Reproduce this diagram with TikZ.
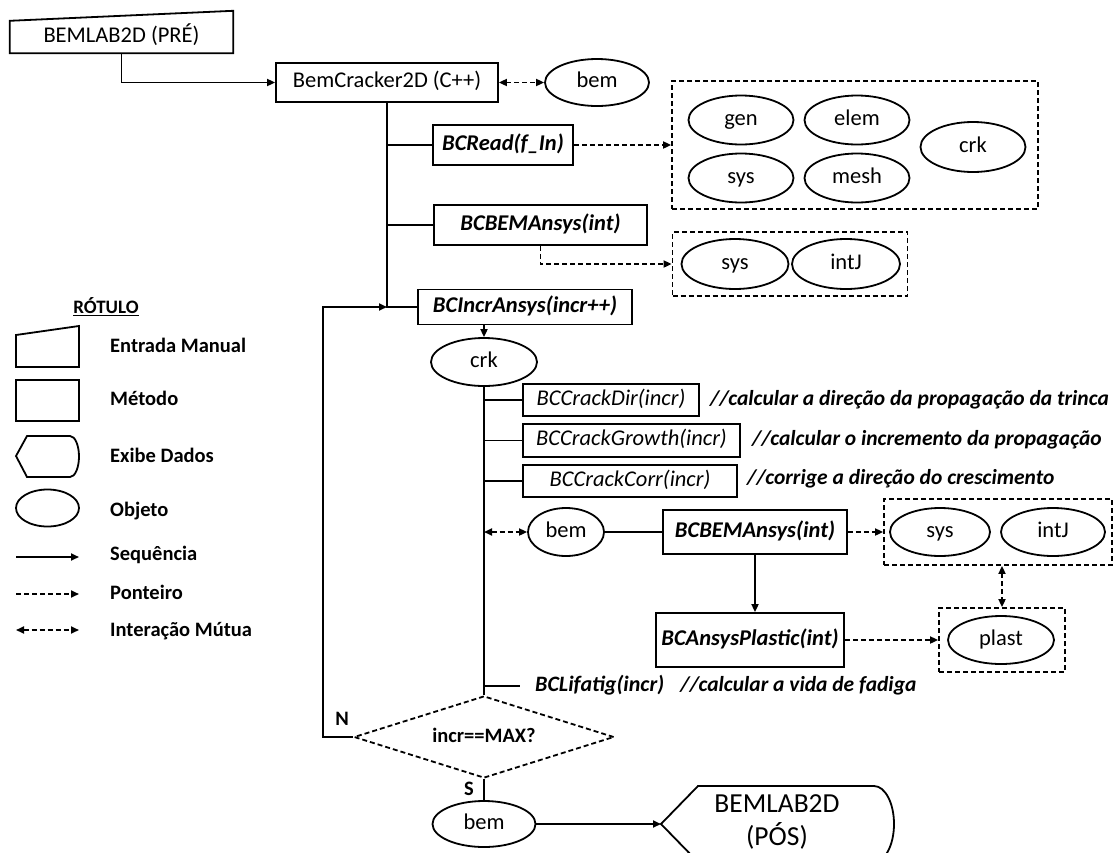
\documentclass[tikz,border=0pt]{standalone}
\usepackage{fontspec}
\setmainfont{Carlito}
\usetikzlibrary{shapes.geometric,arrows.meta,calc}
\begin{document}
\begin{tikzpicture}[x=1pt,y=-1pt,
  every node/.style={font=\fontsize{22.5}{26}\selectfont},
  line/.style={line width=1.8pt},
  seq/.style={line width=1.8pt,-{Triangle[length=8pt,width=7pt]}},
  ptr/.style={line width=1.8pt,dash pattern=on 5pt off 3pt,-{Triangle[length=8pt,width=7pt]}},
  mut/.style={line width=1.8pt,dash pattern=on 5pt off 3pt,{Triangle[length=8pt,width=7pt]}-{Triangle[length=8pt,width=7pt]}},
  ctr/.style={text height=14.5pt,text depth=4pt},
  obj/.style={ellipse,draw,line width=1.8pt,inner sep=0pt,ctr},
  box/.style={rectangle,draw,line width=1.8pt,inner sep=0pt,ctr},
  meth/.style={box,font=\fontsize{22.5}{26}\selectfont\bfseries\itshape},
  cbox/.style={box,font=\fontsize{22.5}{26}\selectfont\itshape},
  cmt/.style={anchor=west,inner sep=0pt,text height=14pt,text depth=4pt,font=\fontsize{21.5}{24}\selectfont\bfseries\itshape},
  grp/.style={rectangle,draw,line width=1.8pt,dash pattern=on 5pt off 3pt,inner sep=0pt},
  lg/.style={anchor=west,inner sep=0pt,text height=13.5pt,text depth=3.5pt,font=\fontsize{20.5}{24}\selectfont\bfseries},
  bold20/.style={text height=13.5pt,text depth=3.5pt,font=\fontsize{20.5}{24}\selectfont\bfseries}
]
\useasboundingbox (0,0) rectangle (1117,852);

% top: manual input and main program
\node[inner sep=0pt,ctr,minimum width=223pt,minimum height=32pt] (pre) at (121.5,37) {BEMLAB2D (PRÉ)};
\draw[line] (pre.south west) -- (pre.south east) -- ([yshift=10pt]pre.north east) -- (pre.north west) -- cycle;
\node[box,minimum width=222pt,minimum height=39pt] (bc) at (387,82.5) {BemCracker2D (C++)};
\draw[seq] (pre.south) |- (bc.west);
\node[obj,minimum width=104pt,minimum height=47pt] (bem1) at (597,82.5) {bem};
\draw[mut] (bc.east) -- (bem1.west);

% BCRead
\node[meth,minimum width=140pt,minimum height=40pt] (read) at (503,145) {BCRead(f\_In)};
\node[grp,minimum width=366pt,minimum height=128pt] (g1) at (855,145) {};
\node[obj,minimum width=105pt,minimum height=49pt] (gen) at (741,120) {gen};
\node[obj,minimum width=105pt,minimum height=49pt] (elem) at (857,120) {elem};
\node[obj,minimum width=105pt,minimum height=49pt] (sys1) at (741,178) {sys};
\node[obj,minimum width=105pt,minimum height=49pt] (mesh) at (857,178) {mesh};
\node[obj,minimum width=105pt,minimum height=50pt] (crk1) at (973,147) {crk};
\draw[ptr] (read.east) -- (g1.west);

% BCBEMAnsys (first)
\node[meth,minimum width=213pt,minimum height=40pt] (bcbem1) at (540.5,225) {BCBEMAnsys(int)};
\node[grp,minimum width=235pt,minimum height=64pt] (g2) at (790,264) {};
\node[obj,minimum width=107pt,minimum height=50pt] (sys2) at (735,264) {sys};
\node[obj,minimum width=108pt,minimum height=50pt] (intJ2) at (846,264) {intJ};
\draw[ptr] (bcbem1.south) |- (g2.west);

% BCIncrAnsys
\node[meth,minimum width=214pt,minimum height=35pt] (incr) at (525,307) {BCIncrAnsys(incr++)};
\coordinate (j1) at (bc.south |- incr.west);
\draw[line] (bc.south) -- (j1) -- (incr.west);
\draw[line] (bc.south |- read.west) -- (read.west);
\draw[line] (bc.south |- bcbem1.west) -- (bcbem1.west);

% crk loop body
\node[obj,minimum width=106pt,minimum height=48pt] (crk2) at (484,362) {crk};
\draw[seq] (crk2.north |- incr.south) -- (crk2.north);

\node[cbox,minimum width=176pt,minimum height=32pt] (dir) at (611,400) {BCCrackDir(incr)};
\node[cbox,minimum width=217pt,minimum height=33pt] (grow) at (631.5,440.5) {BCCrackGrowth(incr)};
\node[cbox,minimum width=214pt,minimum height=32pt] (corr) at (630,481) {BCCrackCorr(incr)};
\node[cmt] (c1) at (710,400) {//calcular a direção da propagação da trinca};
\node[cmt] (c2) at (752,440) {//calcular o incremento da propagação};
\node[cmt] (c3) at (747,479) {//corrige a direção do crescimento};

\node[obj,minimum width=76pt,minimum height=48pt] (bem2) at (566,532) {bem};
\node[meth,minimum width=184pt,minimum height=44pt] (bcbem2) at (755,532) {BCBEMAnsys(int)};
\node[grp,minimum width=228pt,minimum height=66pt] (g3) at (998,532) {};
\node[obj,minimum width=100pt,minimum height=48pt] (sys3) at (940,532) {sys};
\node[obj,minimum width=104pt,minimum height=48pt] (intJ3) at (1053,532) {intJ};
\node[meth,minimum width=188pt,minimum height=54pt] (plastic) at (750,640) {BCAnsysPlastic(int)};
\node[grp,minimum width=126pt,minimum height=64pt] (g4) at (1002,640) {};
\node[obj,minimum width=106pt,minimum height=48pt] (plast) at (1001,640) {plast};

\node[anchor=west,inner sep=0pt,text height=14pt,text depth=4pt,font=\fontsize{22}{26}\selectfont\bfseries\itshape] (lif) at (535,686) {BCLifatig(incr)};
\node[cmt] (c4) at ([xshift=16pt]lif.east) {//calcular a vida de fadiga};

\node[diamond,draw,line width=1.8pt,dash pattern=on 5pt off 3pt,aspect=3.17,minimum width=260pt,minimum height=82pt,inner sep=0pt,bold20] (dia) at (484,737) {incr==MAX?};

\draw[line] (crk2.south) -- (dia.north);
\draw[line] (crk2.south |- dir.west) -- (dir.west);
\draw[line] (crk2.south |- grow.west) -- (grow.west);
\draw[line] (crk2.south |- corr.west) -- (corr.west);
\draw[mut] (crk2.south |- bem2.west) -- (bem2.west);
\draw[line] (bem2.east) -- (bcbem2.west);
\draw[ptr] (bcbem2.east) -- (g3.west);
\draw[seq] (bcbem2.south) -- (bcbem2.south |- plastic.north);
\draw[ptr] (plastic.east) -- (g4.west);
\draw[mut] (g4.north |- g3.south) -- (g4.north);
\draw[line] (crk2.south |- lif.west) -- ([xshift=-15pt]lif.west);

% loop back
\node[bold20] (N) at (342,720) {N};
\draw[seq] (dia.west) -- ++(-30,0) |- (j1);

% exit
\node[bold20] (S) at (469,790) {S};
\node[obj,minimum width=103pt,minimum height=46pt] (bem3) at (484,824) {bem};
\draw[line] (dia.south) -- (bem3.north);
\coordinate (pp) at (661,824);
\draw[seq] (bem3.east) -- (pp);
\draw[line] (pp) -- (698,786) -- (874,786) arc[start angle=90,end angle=-90,x radius=20pt,y radius=38pt] -- (698,862) -- cycle;
\node[align=center,inner sep=0pt,font=\fontsize{27.5}{33}\selectfont] (post) at (777,822) {BEMLAB2D\\(PÓS)};

% legend
\node[inner sep=0pt,font=\fontsize{19}{22}\selectfont\bfseries] (lt) at (106,307) {\underline{RÓTULO}};
\draw[line] (16,367) -- (79,367) -- (79,326) -- (16,335) -- cycle;
\node[lg] (l1) at (110,347) {Entrada Manual};
\draw[line] (16,380) rectangle (79,421);
\node[lg] (l2) at (110,400) {Método};
\draw[line] (16,456) -- (27,436) -- (70,436) arc[start angle=90,end angle=-90,x radius=9pt,y radius=20.5pt] -- (27,477) -- cycle;
\node[lg] (l3) at (110,457) {Exibe Dados};
\draw[line] (47.5,508) ellipse[x radius=31.5pt,y radius=18.5pt];
\node[lg] (l4) at (110,511) {Objeto};
\coordinate (a1) at (16,557); \coordinate (a2) at (79,557);
\draw[seq] (a1) -- (a2);
\node[lg] (l5) at (110,555) {Sequência};
\coordinate (b1) at (16,594); \coordinate (b2) at (79,594);
\draw[ptr] (b1) -- (b2);
\node[lg] (l6) at (110,594) {Ponteiro};
\coordinate (m1) at (16,630); \coordinate (m2) at (79,630);
\draw[mut] (m1) -- (m2);
\node[lg] (l7) at (110,631) {Interação Mútua};
\end{tikzpicture}
\end{document}
